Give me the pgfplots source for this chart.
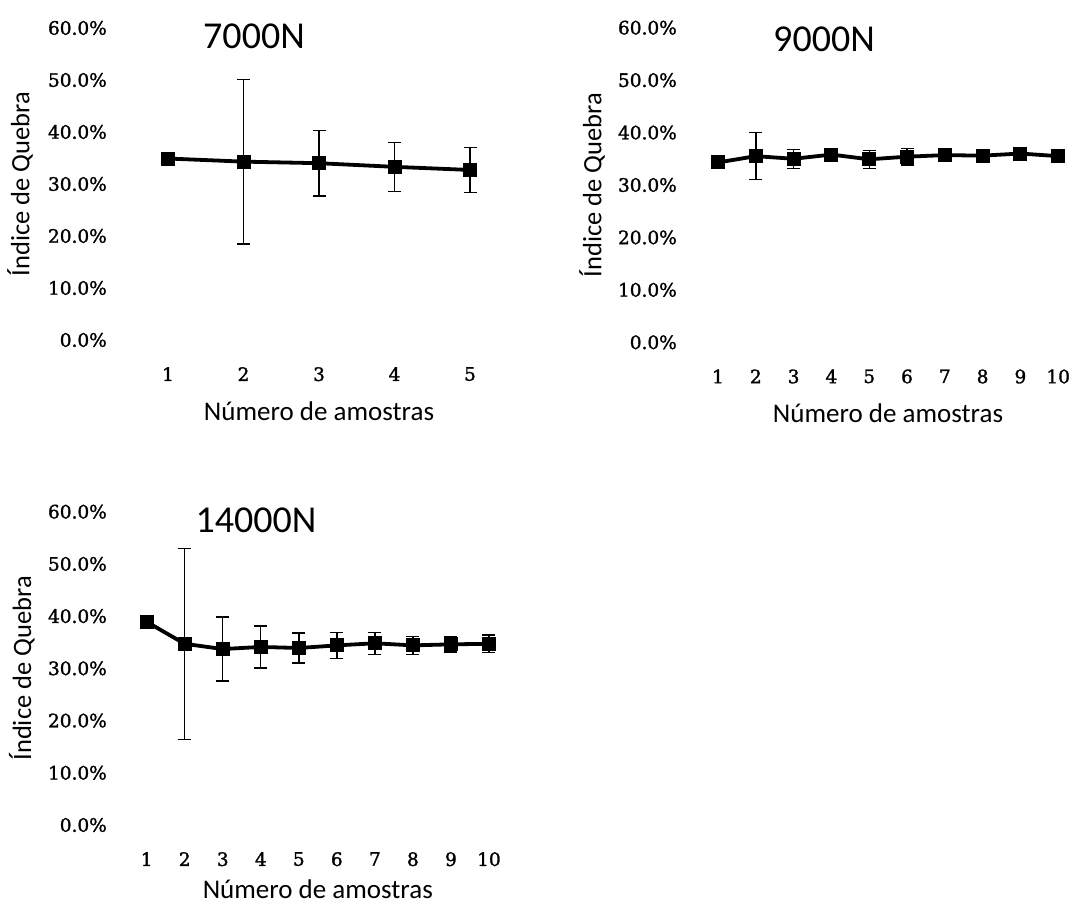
\documentclass[border=0pt]{standalone}
\usepackage{fontspec}
\setmainfont{Carlito}
\newfontfamily\tickfont{DejaVu Serif}[FakeBold=1.5]
\usepackage{pgfplots}
\pgfplotsset{compat=1.18}
\usepackage{pgfplotstable}

\pgfplotstableread{
x y ey
1 34.9 0
2 34.3 15.8
3 34.0 6.3
4 33.3 4.7
5 32.7 4.3
}\dataA
\pgfplotstableread{
x y ey
1 34.3 0
2 35.5 4.5
3 35.0 1.8
4 35.8 0.5
5 34.9 1.7
6 35.4 1.6
7 35.7 0.5
8 35.6 0.5
9 36.0 0.5
10 35.5 0.5
}\dataB
\pgfplotstableread{
x y ey
1 38.9 0
2 34.7 18.3
3 33.7 6.1
4 34.1 4.0
5 33.9 2.9
6 34.4 2.5
7 34.8 2.1
8 34.4 1.7
9 34.6 1.5
10 34.7 1.7
}\dataC

\pgfplotsset{
  panel/.style={
    scale only axis,
    anchor=south west,
    axis line style={draw=none},
    tick style={draw=none},
    ymin=0, ymax=60,
    ytick={0,10,20,30,40,50,60},
    yticklabels={0.0\%,10.0\%,20.0\%,30.0\%,40.0\%,50.0\%,60.0\%},
    yticklabel style={anchor=east, inner sep=0pt, xshift=-5pt, font=\tickfont\fontsize{18.5}{20}\selectfont},
    xticklabel style={anchor=north, inner sep=0pt, yshift=-27pt, font=\tickfont\fontsize{18.5}{20}\selectfont},
    xlabel={Número de amostras},
    ylabel={Índice de Quebra},
    xlabel style={at={(axis description cs:0.5,0)}, anchor=center, yshift=-71pt, font=\fontsize{27}{32}\selectfont},
    title style={anchor=center, font=\fontsize{38}{42}\selectfont},
    clip=false,
  },
  series/.style={
    black, line width=3.8pt, mark=square*, mark size=6.5pt,
    mark options={solid, line width=0pt},
    error bars/.cd, y dir=both, y explicit,
    error bar style={line width=1.4pt, black},
    error mark options={rotate=90, mark size=6.5pt, line width=1.4pt, black},
  },
}

\begin{document}
\begin{tikzpicture}
\useasboundingbox (0,0) rectangle (1073pt,906pt);

% Panel 1: 7000N
\begin{axis}[panel,
  at={(112pt,566pt)}, width=414pt, height=312pt,
  xmin=0.2583, xmax=5.7417,
  xtick={1,2,3,4,5}, xticklabels={1,2,3,4,5},
  title={7000N},
  title style={at={(axis description cs:0.343,0.955)}},
  ylabel style={at={(axis description cs:-0.2222,0.5)}, anchor=center, font=\fontsize{26.5}{30}\selectfont},
]
\addplot+[series] table[x=x, y=y, y error=ey] {\dataA};
\end{axis}

% Panel 2: 9000N
\begin{axis}[panel,
  at={(682pt,563.7pt)}, width=412pt, height=314.6pt,
  xmin=0.0476, xmax=10.947,
  xtick={1,...,10}, xticklabels={1,2,3,4,5,6,7,8,9,10},
  title={9000N},
  title style={at={(axis description cs:0.3447,0.945)}},
  ylabel style={at={(axis description cs:-0.2184,0.5)}, anchor=center, font=\fontsize{26.5}{30}\selectfont},
]
\addplot+[series] table[x=x, y=y, y error=ey] {\dataB};
\end{axis}

% Panel 3: 14000N
\begin{axis}[panel,
  at={(112pt,81pt)}, width=411.6pt, height=313.3pt,
  xmin=0.0876, xmax=10.911,
  xtick={1,...,10}, xticklabels={1,2,3,4,5,6,7,8,9,10},
  title={14000N},
  title style={at={(axis description cs:0.35,0.952)}},
  xlabel style={yshift=7pt},
  ylabel style={at={(axis description cs:-0.2194,0.5)}, anchor=center, font=\fontsize{26.5}{30}\selectfont},
]
\addplot+[series] table[x=x, y=y, y error=ey] {\dataC};
\end{axis}
\end{tikzpicture}
\end{document}
